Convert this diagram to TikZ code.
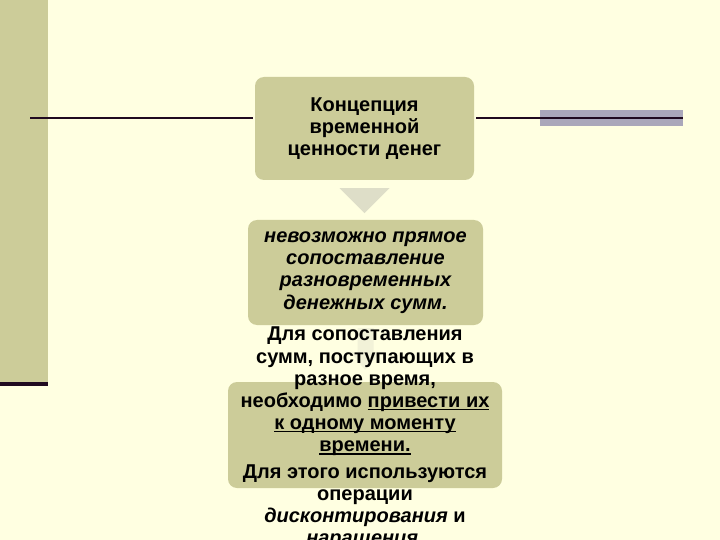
\documentclass[tikz,border=0pt]{standalone}
\usepackage{fontspec}
\setmainfont{Liberation Sans}
\usepackage{xcolor}
\usetikzlibrary{positioning, calc}

\definecolor{slidebg}{RGB}{255,255,225}
\definecolor{olivecard}{RGB}{204,204,153}
\definecolor{ruledark}{RGB}{32,10,32}
\definecolor{barlilac}{RGB}{170,167,186}
\definecolor{arrowtan}{RGB}{222,222,200}
\definecolor{arrowfaint}{RGB}{242,242,216}

% underline kept at one depth on every line
\newcommand{\ulinetext}[1]{\setbox0\hbox{#1}\rlap{\rule[-2.6pt]{\wd0}{1.3pt}}\box0}

\begin{document}
\begin{tikzpicture}[
  x=1pt, y=-1pt,
  card/.style={rounded corners=9pt, fill=olivecard, inner sep=0pt,
    minimum width=#1, align=center},
  ctext/.style={font=\bfseries\fontsize{20}{22.2}\selectfont, align=center, text=black},
  rule/.style={line width=2.6pt, ruledark}
]
% Slide background and frame
\useasboundingbox (0,0) rectangle (720,540);
\fill[slidebg] (0,0) rectangle (720,540);
\fill[olivecard] (0,0) rectangle (48,382);
\fill[ruledark] (0,382) rectangle (48,386);
\fill[barlilac] (540,110) rectangle (683,126);

% Three cards
\node[card=219pt, minimum height=103pt, ctext] (top) at (364.5,128.5)
  {Концепция\\временной\\ценности денег};
\node[card=235pt, minimum height=105pt, ctext, font=\bfseries\itshape\fontsize{20}{22.2}\selectfont] (mid) at (365.5,272.5)
  {невозможно прямое\\сопоставление\\разновременных\\денежных сумм.};
\node[card=274pt, minimum height=106pt] (bot) at (365,435) {};

% Title rule through the first card
\coordinate (lend) at (30,118);
\coordinate (rend) at (683,118);
\draw[rule] (lend) -- ($(top.west)+(-2,-10.5)$);
\draw[rule] ($(top.east)+(2,-10.5)$) -- (rend);

% Block arrows between cards
\fill[arrowtan] ($(top.south)+(-25,8)$) -- ($(top.south)+(25,8)$) -- ($(top.south)+(0,33)$) -- cycle;
\fill[arrowfaint] ($(mid.south)+(-8,3)$) -- ($(mid.south)+(8,3)$) -- ($(mid.south)+(8,27)$)
  -- ($(mid.south)+(15,27)$) -- ($(bot.north)+(0,-12)$) -- ($(mid.south)+(-15,27)$)
  -- ($(mid.south)+(-8,27)$) -- cycle;

% Text of the last card, running past it
\node[ctext] (bottxt) at ($(bot.center)+(0,3)$)
  {Для сопоставления\\сумм, поступающих в\\разное время,\\необходимо \ulinetext{привести их}\\\ulinetext{к одному моменту}\\\ulinetext{времени.}\\[4pt]
   Для этого используются\\операции\\{\itshape дисконтирования} и\\{\itshape наращения.}};

\end{tikzpicture}
\end{document}
